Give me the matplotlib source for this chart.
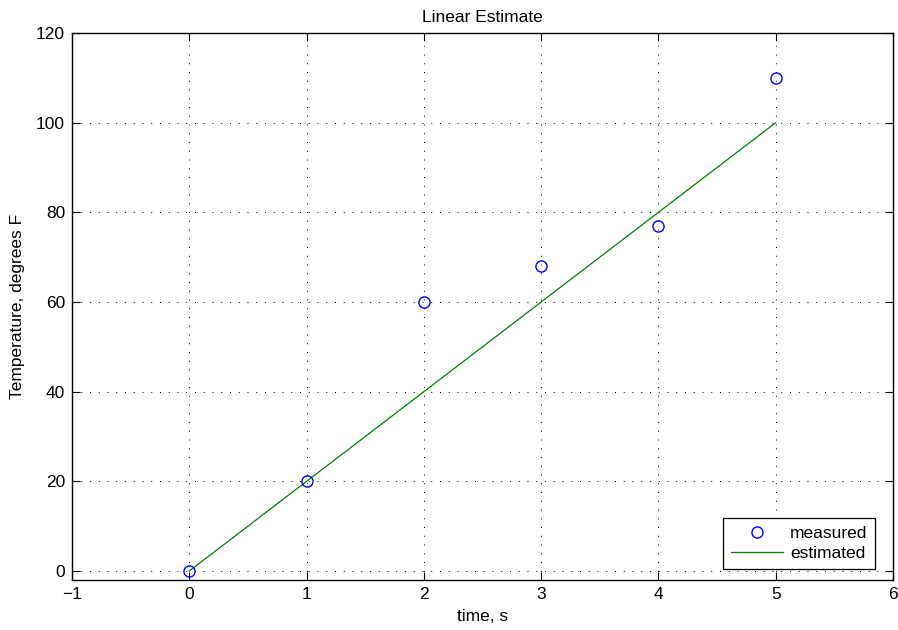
import matplotlib
matplotlib.use("Agg")
import matplotlib.pyplot as plt

plt.rcParams['font.family'] = ['Liberation Sans', 'DejaVu Sans']
plt.rcParams['font.size'] = 12.5

# data
t = [0, 1, 2, 3, 4, 5]
measured = [0, 20, 60, 68, 77, 110]
estimated = [0, 20, 40, 60, 80, 100]

fig = plt.figure(figsize=(8.98, 6.3), dpi=100)
ax = fig.add_axes([0.0802, 0.0794, 0.9142, 0.8682])

ax.plot(t, measured, 'o', mfc='none', mec='blue', ms=8, mew=1.0, label='measured', zorder=3)
ax.plot(t, estimated, '-', color='green', lw=0.9, label='estimated', zorder=2)

ax.set_xlim(-1, 6)
ax.set_ylim(-2, 120)
ax.set_xticks(range(-1, 7))
ax.set_yticks(range(0, 121, 20))
ax.set_xticklabels(['\u22121'] + [str(i) for i in range(0, 7)])

ax.grid(True, color='black', linestyle=(0, (1, 8)), linewidth=0.7)
ax.tick_params(direction='in', top=True, right=True, length=6, width=0.8, pad=5)
for s in ax.spines.values():
    s.set_linewidth(1.0)

ax.set_title('Linear Estimate', fontsize=12.5, pad=8)
ax.set_xlabel('time, s', labelpad=5)
ax.set_ylabel('Temperature, degrees F', labelpad=8)

leg = ax.legend(loc='lower right', bbox_to_anchor=(875 / 898, 61 / 630),
                bbox_transform=fig.transFigure, borderaxespad=0,
                fancybox=False, framealpha=1, edgecolor='black',
                handlelength=3.0, labelspacing=0.3, borderpad=0.45,
                handletextpad=0.4, markerfirst=True)
leg.get_frame().set_linewidth(0.9)

fig.savefig('out.png', dpi=100)
